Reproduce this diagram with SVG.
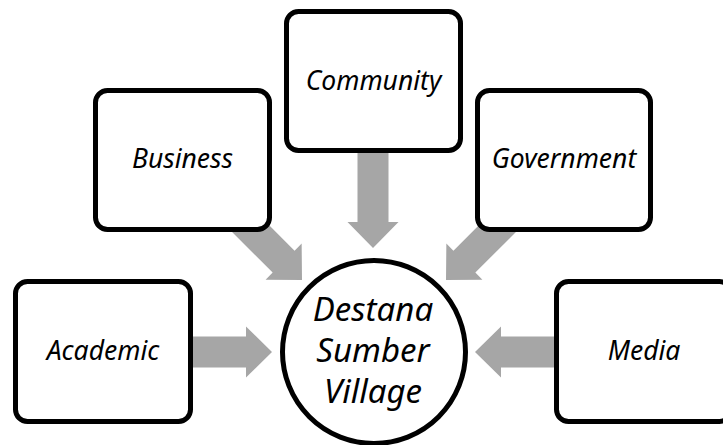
<svg xmlns="http://www.w3.org/2000/svg" width="723" height="445" viewBox="0 0 723 445">
  <style>
    .box { fill: #ffffff; stroke: #000000; stroke-width: 5; }
    .hub { fill: #ffffff; stroke: #000000; stroke-width: 5; }
    .lbl { font-family: "Noto Sans", "DejaVu Sans", sans-serif; font-style: italic; font-size: 26.5px; fill: #000000; text-anchor: middle; }
    .hubLbl { font-family: "Noto Sans", "DejaVu Sans", sans-serif; font-style: italic; font-size: 33px; fill: #000000; text-anchor: middle; }
    .arrow { fill: #A6A6A6; }
  </style>
  <defs>
    <!-- block arrow pointing along +x, tip at the origin -->
    <path id="blockArrow" d="M0,0 L-26,-25.5 L-26,-15.5 L-100,-15.5 L-100,15.5 L-26,15.5 L-26,25.5 Z"/>
  </defs>

  <g id="connectors">
    <use href="#blockArrow" class="arrow" transform="translate(373,248) rotate(90)"/>
    <use href="#blockArrow" class="arrow" transform="translate(302,280) rotate(45)"/>
    <use href="#blockArrow" class="arrow" transform="translate(446,280) rotate(135)"/>
    <use href="#blockArrow" class="arrow" transform="translate(272,352)"/>
    <use href="#blockArrow" class="arrow" transform="translate(475,352) rotate(180)"/>
  </g>

  <g id="community">
    <rect class="box" x="286.5" y="11.5" width="174" height="139" rx="12"/>
    <text class="lbl" x="373.5" y="90">Community</text>
  </g>

  <g id="business">
    <rect class="box" x="95.5" y="90.5" width="174" height="139" rx="12"/>
    <text class="lbl" x="182.5" y="168">Business</text>
  </g>

  <g id="government">
    <rect class="box" x="477.5" y="90.5" width="173" height="139" rx="12"/>
    <text class="lbl" x="564" y="168">Government</text>
  </g>

  <g id="academic">
    <rect class="box" x="15.5" y="281.5" width="175" height="140" rx="12"/>
    <text class="lbl" x="103" y="360">Academic</text>
  </g>

  <g id="media">
    <rect class="box" x="556.5" y="281.5" width="175" height="140" rx="12"/>
    <text class="lbl" x="644" y="360">Media</text>
  </g>

  <g id="destana-sumber-village">
    <circle class="hub" cx="374" cy="352" r="91.5"/>
    <text class="hubLbl" x="373" y="321">Destana</text>
    <text class="hubLbl" x="373" y="362">Sumber</text>
    <text class="hubLbl" x="373" y="403">Village</text>
  </g>
</svg>
